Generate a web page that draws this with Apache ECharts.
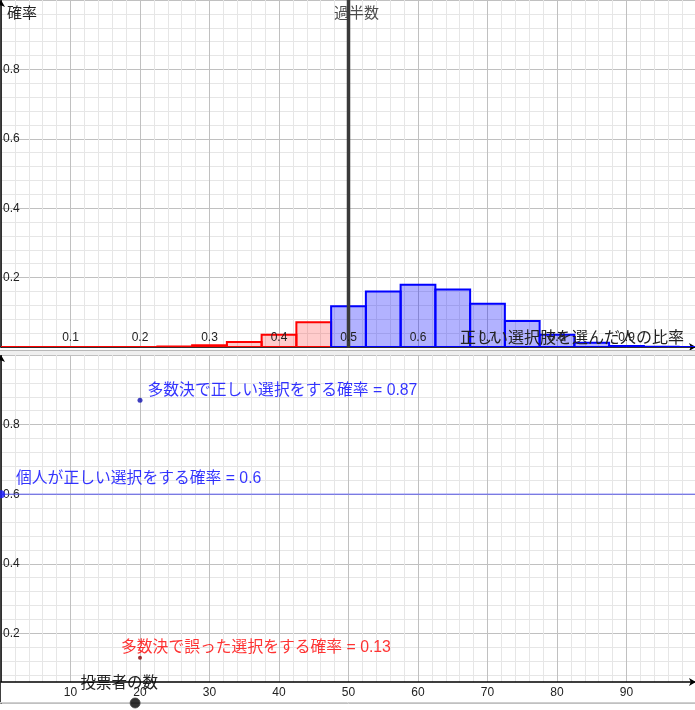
<!DOCTYPE html>
<html>
<head>
<meta charset="utf-8">
<script src="https://cdn.jsdelivr.net/npm/echarts@6/dist/echarts.min.js"></script>
<style>
  html, body { margin: 0; padding: 0; background: #fff; }
  #chart { width: 695px; height: 710px; }
</style>
</head>
<body>
<div id="chart"></div>
<script>
// 上: 20人の投票で正しい選択肢を選んだ人の比率の分布
const shares = [0, 0.05, 0.1, 0.15, 0.2, 0.25, 0.3, 0.35, 0.4, 0.45, 0.5,
  0.55, 0.6, 0.65, 0.7, 0.75, 0.8, 0.85, 0.9, 0.95, 1]
const probs = [0, 0, 0, 0, 0.0003, 0.0013, 0.0049, 0.0146, 0.0355, 0.071, 0.1171,
  0.1597, 0.1797, 0.1659, 0.1244, 0.0746, 0.035, 0.0123, 0.0031, 0.0005, 0]
const binWidth = 0.05
const majority = 0.5

// 下: 投票者の数と確率
const voters = 20
const individual = 0.6
const majorityRight = 0.87
const majorityWrong = 0.13
const sliderX = 19.3

const font = "'Liberation Sans', 'Noto Sans CJK JP', sans-serif"
const jpFont = "'Noto Sans CJK JP', sans-serif"
const major = { show: true, lineStyle: { color: '#c0c0c0', width: 1 } }
const minor = { show: true, lineStyle: { color: '#e6e6e6', width: 1 } }
const tickText = { color: '#222', fontSize: 12, fontFamily: font }
const arrow = { show: true, symbol: ['none', 'arrow'], symbolSize: [6, 7], lineStyle: { color: '#000', width: 1.5 } }

let chart = echarts.init(document.getElementById('chart'), null, { renderer: 'canvas' })

let bars = shares.map((s, i) => [s, probs[i]])

chart.setOption({
  animation: false,
  backgroundColor: '#fff',
  grid: [
    { left: 1, top: 0, width: 695, height: 347, outerBoundsMode: 'none', containLabel: false },
    { left: 1, top: 355, width: 695, height: 348, outerBoundsMode: 'none', containLabel: false }
  ],
  xAxis: [
    {
      gridIndex: 0, type: 'value', min: 0, max: 1, interval: 0.1, position: 'bottom',
      axisLine: Object.assign({}, arrow, { onZero: false }),
      axisTick: { show: false }, axisLabel: { show: false },
      splitLine: major, minorTick: { show: false, splitNumber: 5 }, minorSplitLine: minor
    },
    {
      // 目盛りの数字と軸名は柱の上に
      gridIndex: 0, type: 'value', min: 0, max: 1, interval: 0.1, position: 'bottom', z: 5,
      axisLine: { show: false, onZero: false }, axisTick: { show: false }, splitLine: { show: false },
      axisLabel: Object.assign({ inside: true, margin: 3, showMinLabel: false, showMaxLabel: false }, tickText),
      name: '正しい選択肢を選んだ人の比率', nameLocation: 'end', nameGap: -12, nameMoveOverlap: false,
      nameTextStyle: { align: 'right', verticalAlign: 'bottom', padding: [0, 0, 2, 0], fontSize: 16, color: '#222', fontFamily: jpFont }
    },
    {
      gridIndex: 1, type: 'value', min: 0, max: 100, interval: 10, position: 'bottom',
      axisLine: { show: false, onZero: false }, axisTick: { show: false }, axisLabel: { show: false },
      splitLine: major, minorTick: { show: false, splitNumber: 5 }, minorSplitLine: minor
    },
    {
      // 軸線とラベルだけ（白い帯の上に描く）
      gridIndex: 1, type: 'value', min: 0, max: 100, interval: 10, position: 'bottom', offset: -21, z: 5,
      axisLine: Object.assign({}, arrow, { onZero: false }),
      axisTick: { show: false },
      axisLabel: Object.assign({ margin: 5, showMinLabel: false, showMaxLabel: false }, tickText),
      splitLine: { show: false },
      name: '投票者の数', nameLocation: 'start', nameGap: -157, nameMoveOverlap: false,
      nameTextStyle: { align: 'right', verticalAlign: 'middle', padding: [8, 0, 0, 0], fontSize: 15.5, color: '#222', fontFamily: jpFont }
    }
  ],
  yAxis: [
    {
      gridIndex: 0, type: 'value', min: 0, max: 1, interval: 0.2,
      axisLine: Object.assign({}, arrow, { onZero: false }),
      axisTick: { show: false },
      axisLabel: Object.assign({ inside: true, margin: 2, showMinLabel: false, showMaxLabel: false }, tickText),
      splitLine: major, minorTick: { show: false, splitNumber: 5 }, minorSplitLine: minor,
      name: '確率', nameLocation: 'end', nameGap: -12, nameMoveOverlap: false,
      nameTextStyle: { align: 'left', verticalAlign: 'middle', padding: [0, 0, 0, 6], fontSize: 15, color: '#222', fontFamily: jpFont }
    },
    {
      gridIndex: 1, type: 'value', min: 0, max: 1, interval: 0.2,
      axisLine: Object.assign({}, arrow, { onZero: false }),
      axisTick: { show: false },
      axisLabel: Object.assign({ inside: true, margin: 2, showMinLabel: false, showMaxLabel: false }, tickText),
      splitLine: major, minorTick: { show: false, splitNumber: 5 }, minorSplitLine: minor
    }
  ],
  graphic: [
    // 2つの表示の間の仕切り
    { type: 'rect', shape: { x: 0, y: 350, width: 695, height: 5 }, style: { fill: '#efefef' }, z: 10 },
    { type: 'line', shape: { x1: 0, y1: 350.5, x2: 695, y2: 350.5 }, style: { stroke: '#b8b8b8', lineWidth: 1 }, z: 10 },
    { type: 'line', shape: { x1: 0, y1: 702.5, x2: 695, y2: 702.5 }, style: { stroke: '#cfcfcf', lineWidth: 1 }, z: 3 }
  ],
  series: [
    {
      type: 'custom',
      xAxisIndex: 0, yAxisIndex: 0,
      clip: true,
      data: bars,
      renderItem(params, api) {
        let x = api.value(0)
        let p1 = api.coord([x - binWidth / 2, api.value(1)])
        let p2 = api.coord([x + binWidth / 2, 0])
        let right = x >= majority
        return {
          type: 'rect',
          shape: { x: p1[0], y: p1[1], width: p2[0] - p1[0], height: p2[1] - p1[1] },
          style: {
            fill: right ? 'rgba(0,0,255,0.3)' : 'rgba(255,0,0,0.2)',
            stroke: right ? '#0000ff' : '#ff0000',
            lineWidth: 2
          }
        }
      }
    },
    {
      type: 'line',
      xAxisIndex: 0, yAxisIndex: 0,
      data: [[majority, 0], [majority, 1]],
      symbol: 'none',
      lineStyle: { color: '#3a3a3a', width: 3.5 },
      z: 4
    },
    {
      type: 'scatter',
      xAxisIndex: 0, yAxisIndex: 0,
      data: [[majority, 1]],
      symbolSize: 1,
      itemStyle: { color: 'rgba(0,0,0,0)' },
      label: {
        show: true, position: 'bottom', distance: 4, offset: [8, 0],
        formatter: '過半数', fontSize: 15, color: '#222', fontFamily: jpFont
      }
    },
    {
      type: 'line',
      xAxisIndex: 2, yAxisIndex: 1,
      data: [[0, individual], [100, individual]],
      symbol: 'none',
      lineStyle: { color: '#5a5af0', width: 1 },
      markArea: {
        silent: true,
        itemStyle: { color: '#fff', opacity: 1 },
        data: [[{ coord: [0, 0] }, { coord: [100, 0.0606] }]]
      }
    },
    {
      type: 'scatter',
      xAxisIndex: 2, yAxisIndex: 1,
      z: 6,
      data: [
        {
          value: [0, individual], symbolSize: 8, itemStyle: { color: '#1a1aff' },
          label: { show: true, position: 'right', offset: [6, -16], color: '#0000ff',
            formatter: p => '個人が正しい選択をする確率 = ' + p.value[1] }
        },
        {
          value: [voters, majorityRight], symbolSize: 5, itemStyle: { color: '#1010b0' },
          label: { show: true, position: 'right', offset: [0, -10], color: '#0000ff',
            formatter: p => '多数決で正しい選択をする確率 = ' + p.value[1] }
        },
        {
          value: [voters, majorityWrong], symbolSize: 4, itemStyle: { color: '#8b0000' },
          label: { show: true, position: 'right', offset: [-26, -10], color: '#ff0000',
            formatter: p => '多数決で誤った選択をする確率 = ' + p.value[1] }
        },
        {
          value: [sliderX, 0], symbolSize: 10, itemStyle: { color: '#000', borderColor: '#444', borderWidth: 1 }
        }
      ],
      label: { fontSize: 15.8, fontFamily: font }
    }
  ]
})
</script>
</body>
</html>
